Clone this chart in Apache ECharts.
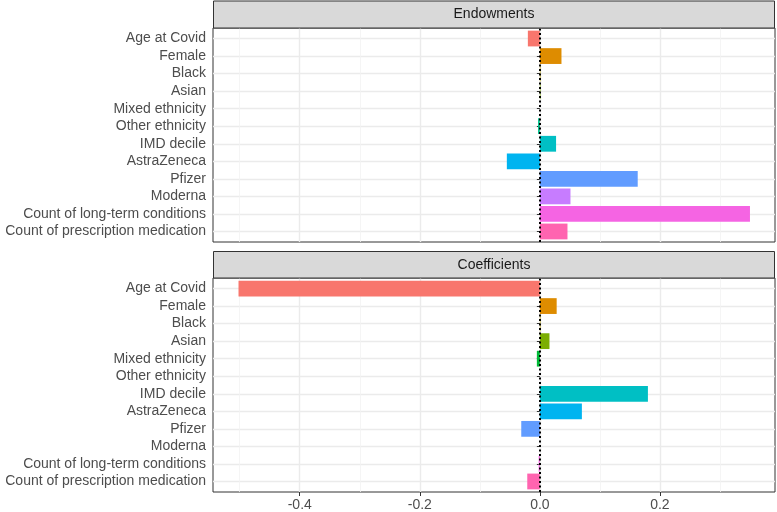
<!DOCTYPE html>
<html>
<head>
<meta charset="utf-8">
<script src="https://cdn.jsdelivr.net/npm/echarts@6/dist/echarts.min.js"></script>
<style>html,body{margin:0;padding:0;background:#fff}#chart{width:777px;height:512px}</style>
</head>
<body>
<div id="chart"></div>
<script>
// ---- data ----
var categories = ["Age at Covid", "Female", "Black", "Asian", "Mixed ethnicity", "Other ethnicity",
  "IMD decile", "AstraZeneca", "Pfizer", "Moderna", "Count of long-term conditions", "Count of prescription medication"];
var endowments = [-0.020, 0.036, 0.001, 0.001, 0.000, -0.003, 0.027, -0.055, 0.163, 0.051, 0.350, 0.046];
var coefficients = [-0.502, 0.028, 0.001, 0.016, -0.005, 0.000, 0.180, 0.070, -0.031, 0.000, -0.002, -0.021];
var barColors = ["#F8766D", "#DE8C00", "#B79F00", "#7CAE00", "#00BA38", "#00C08B",
  "#00BFC4", "#00B4F0", "#619CFF", "#C77CFF", "#F564E3", "#FF64B0"];
var panelTitles = ["Endowments", "Coefficients"];
var xMajorTicks = [-0.4, -0.2, 0.0, 0.2];
var xMinorTicks = [-0.5, -0.3, -0.1, 0.1, 0.3];

// ---- layout / style ----
var XMIN = -0.5445, XMAX = 0.3917;
var FONT = '"Liberation Sans", Arial, Helvetica, sans-serif';
var LEFT = 213, RIGHT = 2;
var panels = [{frameTop: 28, stripTop: 1}, {frameTop: 278, stripTop: 251.5}];
var FRAME_H = 214;
var UNIT = FRAME_H / (categories.length - 1 + 1.2);
var PAD = UNIT * 0.6;

var grids = [], xAxes = [], yAxes = [], series = [], graphics = [];
var dataSets = [endowments, coefficients];

panels.forEach(function (p, i) {
  var outerIdx = grids.length;
  grids.push({left: LEFT, right: RIGHT, top: p.frameTop, height: FRAME_H, show: true,
    borderColor: '#333333', borderWidth: 1, backgroundColor: 'transparent'});
  var innerIdx = grids.length;
  grids.push({left: LEFT, right: RIGHT, top: p.frameTop + PAD, height: FRAME_H - 2 * PAD});
  var isBottom = (i === panels.length - 1);

  var xMajorIdx = xAxes.length;
  xAxes.push({type: 'value', gridIndex: outerIdx, min: XMIN, max: XMAX, position: 'bottom',
    axisLine: {show: false},
    axisTick: {show: isBottom, customValues: xMajorTicks, length: 4, lineStyle: {color: '#333333', width: 1}},
    axisLabel: {show: isBottom, customValues: xMajorTicks, color: '#4d4d4d', fontSize: 14, fontFamily: FONT, margin: 6,
      formatter: function (v) { return (Math.abs(v) < 1e-9 ? 0 : v).toFixed(1); }},
    splitLine: {show: true, lineStyle: {color: '#ebebeb', width: 1.4}}});
  xAxes.push({type: 'value', gridIndex: outerIdx, min: XMIN, max: XMAX, position: 'top',
    axisLine: {show: false}, axisTick: {show: false, customValues: xMinorTicks},
    axisLabel: {show: false, customValues: xMinorTicks},
    splitLine: {show: true, lineStyle: {color: '#f2f2f2', width: 0.8}}});
  var xInnerIdx = xAxes.length;
  xAxes.push({type: 'value', gridIndex: innerIdx, min: XMIN, max: XMAX, show: false});

  var yOuterIdx = yAxes.length;
  yAxes.push({type: 'value', gridIndex: outerIdx, min: 0, max: 1, show: false});
  var yInnerIdx = yAxes.length;
  yAxes.push({type: 'category', gridIndex: innerIdx, data: categories, inverse: true, boundaryGap: false,
    axisLine: {show: false},
    axisTick: {show: true, interval: 0, length: 3, lineStyle: {color: '#333333', width: 1}},
    axisLabel: {interval: 0, color: '#4d4d4d', fontSize: 14, fontFamily: FONT, margin: 7},
    splitLine: {show: true, interval: 0, lineStyle: {color: '#ebebeb', width: 1.4}}});

  series.push({type: 'bar', xAxisIndex: xInnerIdx, yAxisIndex: yInnerIdx, barWidth: '90%', clip: false,
    data: dataSets[i].map(function (v, k) { return {value: v, itemStyle: {color: barColors[k]}}; }),
    z: 2});
  series.push({type: 'line', xAxisIndex: xMajorIdx, yAxisIndex: yOuterIdx, data: [[0, 0.5]], showSymbol: false,
    symbolSize: 0, lineStyle: {opacity: 0}, z: 5,
    markLine: {silent: true, symbol: 'none', label: {show: false}, animation: false,
      lineStyle: {color: '#000000', type: [2, 2.5], width: 2},
      data: [{xAxis: 0}]}});

  // strip
  graphics.push({type: 'rect', shape: {x: LEFT + 0.5, y: p.stripTop, width: 777 - LEFT - RIGHT - 1, height: p.frameTop - p.stripTop},
    style: {fill: '#d9d9d9', stroke: '#333333', lineWidth: 1}, z: 10});
  graphics.push({type: 'text', x: LEFT + (777 - LEFT - RIGHT) / 2, y: (p.stripTop + p.frameTop) / 2,
    style: {text: panelTitles[i], fill: '#1a1a1a', font: '14px ' + FONT, textAlign: 'center', textVerticalAlign: 'middle'}, z: 11});
});

var chart = echarts.init(document.getElementById('chart'), null, {renderer: 'canvas'});
chart.setOption({
  animation: false,
  backgroundColor: '#ffffff',
  grid: grids, xAxis: xAxes, yAxis: yAxes, series: series, graphic: graphics
});
</script>
</body>
</html>
